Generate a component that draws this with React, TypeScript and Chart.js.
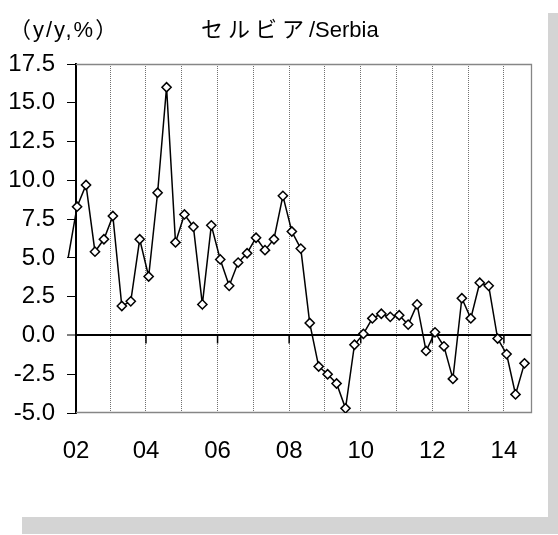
import React, { useEffect, useRef } from 'react';
import { Chart, registerables } from 'chart.js';

Chart.register(...registerables);

const quarters = [
  '2001Q4',
  '2002Q1', '2002Q2', '2002Q3', '2002Q4',
  '2003Q1', '2003Q2', '2003Q3', '2003Q4',
  '2004Q1', '2004Q2', '2004Q3', '2004Q4',
  '2005Q1', '2005Q2', '2005Q3', '2005Q4',
  '2006Q1', '2006Q2', '2006Q3', '2006Q4',
  '2007Q1', '2007Q2', '2007Q3', '2007Q4',
  '2008Q1', '2008Q2', '2008Q3', '2008Q4',
  '2009Q1', '2009Q2', '2009Q3', '2009Q4',
  '2010Q1', '2010Q2', '2010Q3', '2010Q4',
  '2011Q1', '2011Q2', '2011Q3', '2011Q4',
  '2012Q1', '2012Q2', '2012Q3', '2012Q4',
  '2013Q1', '2013Q2', '2013Q3', '2013Q4',
  '2014Q1', '2014Q2', '2014Q3',
];

const growth = [
  5.0,
  8.3, 9.7, 5.4, 6.2,
  7.7, 1.9, 2.2, 6.2,
  3.8, 9.2, 16.0, 6.0,
  7.8, 7.0, 2.0, 7.1,
  4.9, 3.2, 4.7, 5.3,
  6.3, 5.5, 6.2, 9.0,
  6.7, 5.6, 0.8, -2.0,
  -2.5, -3.1, -4.7, -0.6,
  0.1, 1.1, 1.4, 1.2,
  1.3, 0.7, 2.0, -1.0,
  0.2, -0.7, -2.8, 2.4,
  1.1, 3.4, 3.2, -0.2,
  -1.2, -3.8, -1.8,
];

const yearLabels = ['02', '04', '06', '08', '10', '12', '14'];
const yMin = -5;
const yMax = 17.5;
const yStep = 2.5;

const unitLabel = '（y/y,%）';
const titleJa = 'セルビア';
const titleEn = '/Serbia';

const FONT = '"Liberation Sans", Arial, "Noto Sans CJK JP", sans-serif';

export default function App() {
  const canvasRef = useRef<HTMLCanvasElement | null>(null);

  useEffect(() => {
    const canvas = canvasRef.current;
    if (!canvas) return;

    const base = quarters.indexOf('2002Q1');
    const points = growth.map((v, i) => ({ x: i - base, y: v }));

    const xMin = -0.12;
    const xMax = 50.84;

    // year boundary grid positions (slightly before each Q1)
    const boundaries: { value: number; year: string }[] = [];
    quarters.forEach((q, i) => {
      if (q.endsWith('Q1')) {
        const v = i - base - 0.3;
        boundaries.push({ value: Math.max(v, xMin), year: q.slice(2, 4) });
      }
    });

    const framePlugin = {
      id: 'frame',
      beforeDatasetsDraw(chart: any) {
        const { ctx, chartArea: a, scales } = chart;
        ctx.save();
        ctx.strokeStyle = '#868686';
        ctx.lineWidth = 1.3;
        ctx.beginPath();
        ctx.moveTo(a.left, a.top + 0.5);
        ctx.lineTo(a.right - 0.5, a.top + 0.5);
        ctx.lineTo(a.right - 0.5, a.bottom - 0.5);
        ctx.lineTo(a.left, a.bottom - 0.5);
        ctx.stroke();
        const xs = scales.x;
        const ys = scales.y;
        const y0 = ys.getPixelForValue(0);
        ctx.strokeStyle = '#000';
        ctx.lineWidth = 1.5;
        xs.ticks.forEach((t: any) => {
          if (!t.label) return;
          const px = xs.getPixelForValue(t.value);
          ctx.beginPath();
          ctx.moveTo(px, y0);
          ctx.lineTo(px, y0 + 8);
          ctx.stroke();
        });
        ctx.restore();
      },
    };

    const textPlugin = {
      id: 'texts',
      afterDraw(chart: any) {
        const ctx = chart.ctx;
        ctx.save();
        ctx.fillStyle = '#000';
        ctx.font = '22px ' + FONT;
        ctx.textBaseline = 'alphabetic';
        ctx.textAlign = 'left';
        ctx.letterSpacing = '2px';
        ctx.fillText(unitLabel, 9, 37);
        ctx.letterSpacing = '5px';
        ctx.fillText(titleJa, 201, 37);
        const w = ctx.measureText(titleJa).width;
        ctx.letterSpacing = '0px';
        ctx.fillText(titleEn, 201 + w, 37);
        ctx.restore();
      },
    };

    const chart = new Chart(canvas, {
      type: 'line',
      data: {
        datasets: [
          {
            data: points,
            borderColor: '#000',
            borderWidth: 1.5,
            tension: 0,
            pointStyle: 'rectRot',
            pointRadius: (c: any) => (c.dataIndex === 0 ? 0 : 4.6),
            pointBackgroundColor: '#fff',
            pointBorderColor: '#000',
            pointBorderWidth: 1.5,
            clip: { left: 12, top: 0, right: 0, bottom: 0 } as any,
          },
        ],
      },
      options: {
        animation: false,
        responsive: false,
        devicePixelRatio: 1,
        events: [],
        layout: { padding: { left: 0, top: 64, right: 16, bottom: 44 } },
        plugins: {
          legend: { display: false },
          title: { display: false },
          tooltip: { enabled: false },
        },
        scales: {
          x: {
            type: 'linear',
            min: xMin,
            max: xMax,
            afterBuildTicks: (scale: any) => {
              scale.ticks = boundaries.map((b) => ({ value: b.value }));
            },
            afterFit: (scale: any) => {
              scale.height = 60;
            },
            ticks: {
              autoSkip: false,
              maxRotation: 0,
              padding: 24,
              color: '#000',
              font: { family: FONT, size: 24 },
              callback: (_v: any, i: number) => {
                const b = boundaries[i];
                return b && yearLabels.includes(b.year) ? b.year : '';
              },
            },
            grid: {
              drawTicks: false,
              color: (c: any) => (c.index === 0 ? 'rgba(0,0,0,0)' : '#707070'),
              lineWidth: 1,
            },
            border: { display: false, dash: [1, 1] },
          },
          y: {
            type: 'linear',
            min: yMin,
            max: yMax,
            afterFit: (scale: any) => {
              scale.width = 76;
            },
            ticks: {
              stepSize: yStep,
              padding: 12,
              color: '#000',
              font: { family: FONT, size: 24 },
              callback: (v: any) => Number(v).toFixed(1),
            },
            grid: {
              drawTicks: true,
              tickLength: 9,
              tickColor: '#000',
              tickWidth: 1,
              color: (c: any) => (c.tick && c.tick.value === 0 ? '#000' : 'rgba(0,0,0,0)'),
              lineWidth: (c: any) => (c.tick && c.tick.value === 0 ? 2 : 1),
            },
            border: { display: true, color: '#000', width: 2 },
          },
        },
      },
      plugins: [framePlugin, textPlugin],
    } as any);

    return () => chart.destroy();
  }, []);

  return (
    <div style={{ position: 'absolute', left: 0, top: 0, width: 558, height: 535, background: '#fff' }}>
      <div style={{ position: 'absolute', left: 22, top: 13, width: 536, height: 521, background: '#d4d4d4' }} />
      <div style={{ position: 'absolute', left: 0, top: 0, width: 548, height: 517, background: '#fff' }}>
        <canvas ref={canvasRef} width={548} height={517} style={{ display: 'block', width: 548, height: 517 }} />
      </div>
    </div>
  );
}
